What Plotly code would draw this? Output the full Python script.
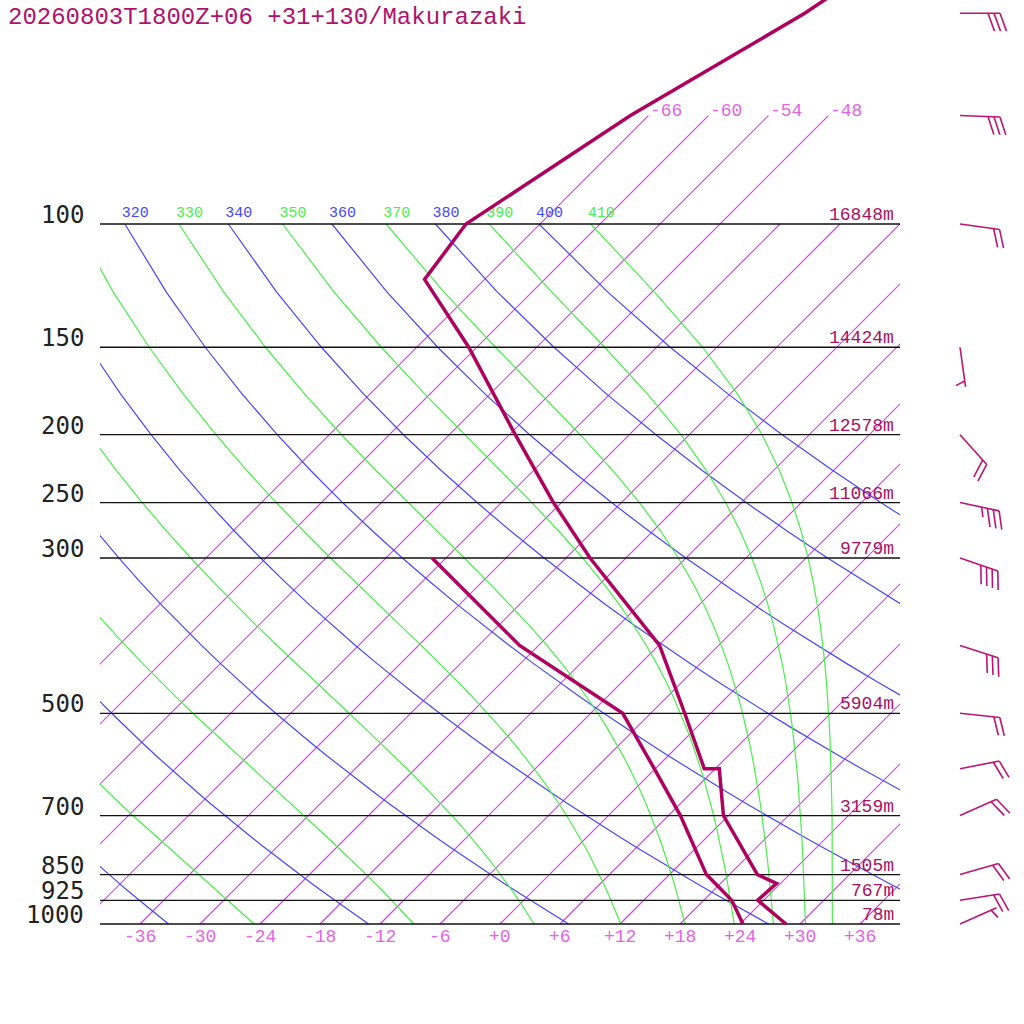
import numpy as np
import plotly.graph_objects as go

# forecast sounding, Makurazaki
title_text = "20260803T1800Z+06 +31+130/Makurazaki"

temp_p = [1000, 925, 875, 850, 700, 600, 600, 500, 400, 300, 250, 200, 150, 120, 100, 70, 50, 30]
temp_c = [28.6, 23.4, 23.6, 20.8, 11.5, 6.4, 4.9, -2.6, -11.9, -27.6, -36.8, -47.4, -60.8, -72.0, -73.4, -67.8, -60.6, -53.0]

dewp_p = [1000, 925, 850, 700, 600, 500, 400, 300]
dewp_c = [24.3, 20.8, 15.7, 7.2, -0.1, -8.8, -25.9, -43.4]

std_p = [1000, 925, 850, 700, 500, 300, 250, 200, 150, 100]
std_z = [78, 767, 1505, 3159, 5904, 9779, 11066, 12578, 14424, 16848]

wind_p = [50, 70, 100, 150, 200, 250, 300, 400, 500, 600, 700, 850, 925, 1000]
wind_dir = [90, 92, 98, 172, 138, 102, 109, 108, 96, 79, 66, 74, 81, 66]
wind_kt = [30, 30, 20, 5, 20, 35, 40, 30, 20, 20, 20, 20, 20, 5]

isotherm_c = list(range(-66, 37, 6))
top_isotherm_c = [-66, -60, -54, -48]
theta_k = list(range(240, 401, 20))
thetae_k = list(range(250, 411, 20))

# geometry
W = H = 1024
P0 = 1000.0
SKEW = 70.0          # deg C of shift per pressure decade (45 deg)
DEC_PX = 700.0       # pixels per pressure decade
ROW_1000 = 924       # pixel row of 1000 hPa
X_LEFT, X_RIGHT = -40.0, 40.0
BARB_X = 960
STAFF = 40
FEATH = np.deg2rad(70)

PROF = "rgb(176,0,94)"
BARB = "rgb(188,20,116)"
ISO = "rgb(214,64,232)"
ISO_TXT = "rgb(228,100,228)"
DRY = "rgb(70,70,255)"
MOIST = "rgb(72,240,72)"
ZTXT = "rgb(168,16,94)"
MONO = "Liberation Mono, Courier New, monospace"

y_range = [3 + (H - ROW_1000) / DEC_PX, 3 - ROW_1000 / DEC_PX]


def skew_x(t, p):
    return np.asarray(t, float) + SKEW * np.log10(P0 / np.asarray(p, float))


def up(p, px):
    # pressure that sits px pixels above p on the log axis
    return 10 ** (np.log10(p) - px / DEC_PX)


def thetae_sat(tk, p):
    tc = tk - 273.15
    es = 6.112 * np.exp(17.67 * tc / (tc + 243.5))
    es = np.minimum(es, 0.5 * p)
    r = 0.622 * es / (p - es)
    return tk * (1000.0 / p) ** (0.2854 * (1 - 0.28 * r)) * \
        np.exp((3.376 / tk - 0.00254) * r * 1000 * (1 + 0.81 * r))


def moist_t(te, p):
    lo = np.full_like(p, 120.0)
    hi = np.full_like(p, 330.0)
    for _ in range(60):
        mid = 0.5 * (lo + hi)
        big = thetae_sat(mid, p) > te
        hi = np.where(big, mid, hi)
        lo = np.where(big, lo, mid)
    return 0.5 * (lo + hi)


fig = go.Figure()

lev = np.arange(1000, 99, -25.0)

# isotherms
xs, ys = [], []
for t in isotherm_c:
    ptop = 70 if t in top_isotherm_c else 100
    xa = skew_x([t, t], [1000, ptop])
    xs += [float(xa[0]), float(xa[1]), None]
    ys += [1000.0, float(ptop), None]
fig.add_trace(go.Scatter(x=xs, y=ys, mode="lines", line=dict(color=ISO, width=1.2),
                         hoverinfo="skip"))

# dry adiabats
xs, ys = [], []
for th in theta_k:
    tt = th * (lev / P0) ** 0.286 - 273.15
    xs += [float(v) for v in skew_x(tt, lev)] + [None]
    ys += [float(v) for v in lev] + [None]
fig.add_trace(go.Scatter(x=xs, y=ys, mode="lines", line=dict(color=DRY, width=1.2),
                         hoverinfo="skip"))

# moist adiabats
xs, ys = [], []
moist_top = {}
for te in thetae_k:
    tt = moist_t(te, lev) - 273.15
    sx = skew_x(tt, lev)
    moist_top[te] = float(sx[-1])
    xs += [float(v) for v in sx] + [None]
    ys += [float(v) for v in lev] + [None]
fig.add_trace(go.Scatter(x=xs, y=ys, mode="lines", line=dict(color=MOIST, width=1.2),
                         hoverinfo="skip"))

# isobars
xs, ys = [], []
for p in std_p:
    xs += [X_LEFT, X_RIGHT, None]
    ys += [p, p, None]
fig.add_trace(go.Scatter(x=xs, y=ys, mode="lines", line=dict(color="#111", width=1.3),
                         hoverinfo="skip"))

# theta labels along 100 hPa
lab_x, lab_t, lab_c = [], [], []
for th in theta_k:
    if th >= 320:
        lab_x.append(float(skew_x(th * 0.1 ** 0.286 - 273.15, 100)) - 0.3)
        lab_t.append(str(th))
        lab_c.append(DRY)
for te in thetae_k:
    if te >= 310:
        lab_x.append(moist_top[te] - 0.3)
        lab_t.append(str(te))
        lab_c.append(MOIST)
fig.add_trace(go.Scatter(x=lab_x, y=[up(100, 11)] * len(lab_x), mode="text", text=lab_t,
                         textposition="middle right", cliponaxis=True,
                         textfont=dict(family=MONO, size=15, color=lab_c), hoverinfo="skip"))

# profiles
fig.add_trace(go.Scatter(x=skew_x(dewp_c, dewp_p), y=dewp_p, mode="lines",
                         line=dict(color=PROF, width=3.5), hoverinfo="skip"))
fig.add_trace(go.Scatter(x=skew_x(temp_c, temp_p), y=temp_p, mode="lines",
                         line=dict(color=PROF, width=3.5), hoverinfo="skip"))

# wind barbs (pixel offsets from the station point)
bx, by = [], []
for p, d, s in zip(wind_p, wind_dir, wind_kt):
    a = np.deg2rad(d)
    ux, uy = np.sin(a), -np.cos(a)
    fx = ux * np.cos(FEATH) - uy * np.sin(FEATH)
    fy = ux * np.sin(FEATH) + uy * np.cos(FEATH)
    segs = [((0, 0), (ux * STAFF, uy * STAFF))]
    n5 = int(round(s / 5))
    n50, rest = divmod(n5, 10)
    nfull, nhalf = divmod(rest, 2)
    k = 0
    for _ in range(n50):
        b0 = STAFF - k * 6
        b1 = b0 - 8
        segs.append(((ux * b0, uy * b0), (ux * b0 + fx * 19, uy * b0 + fy * 19)))
        segs.append(((ux * b0 + fx * 19, uy * b0 + fy * 19), (ux * b1, uy * b1)))
        k += 2
    for _ in range(nfull):
        b0 = STAFF - k * 6
        segs.append(((ux * b0, uy * b0), (ux * b0 + fx * 19, uy * b0 + fy * 19)))
        k += 1
    if nhalf:
        if k == 0:
            k = 1
        b0 = STAFF - k * 6
        segs.append(((ux * b0, uy * b0), (ux * b0 + fx * 10, uy * b0 + fy * 10)))
    for (x0, y0), (x1, y1) in segs:
        bx += [BARB_X + x0, BARB_X + x1, None]
        by += [10 ** (np.log10(p) + y0 / DEC_PX), 10 ** (np.log10(p) + y1 / DEC_PX), None]
fig.add_trace(go.Scatter(x=bx, y=by, xaxis="x2", mode="lines",
                         line=dict(color=BARB, width=1.6), hoverinfo="skip"))

ann = []
# pressure labels
for p in std_p:
    ann.append(dict(xref="x2", yref="y", x=86, y=np.log10(p), yshift=9, text=str(p),
                    xanchor="right", yanchor="middle", showarrow=False,
                    font=dict(family="DejaVu Sans Mono", size=24, color="#222")))
# heights
for p, z in zip(std_p, std_z):
    ann.append(dict(xref="x", yref="y", x=X_RIGHT, y=np.log10(p), xshift=-4, yshift=9,
                    text=f"{z}m", xanchor="right", yanchor="middle", showarrow=False,
                    font=dict(family=MONO, size=18, color=ZTXT)))
# isotherm labels, bottom
for t in isotherm_c:
    if X_LEFT < t < X_RIGHT:
        ann.append(dict(xref="x", yref="y", x=t, y=3, yshift=-13, text=f"{t:+d}",
                        xanchor="center", yanchor="middle", showarrow=False,
                        font=dict(family=MONO, size=18, color=ISO_TXT)))
# isotherm labels, top
for t in top_isotherm_c:
    ann.append(dict(xref="x", yref="y", x=float(skew_x(t, 70)), y=np.log10(70), yshift=5,
                    text=f"{t:+d}", xanchor="left", yanchor="middle", showarrow=False,
                    font=dict(family=MONO, size=18, color=ISO_TXT)))
ann.append(dict(xref="paper", yref="paper", x=6 / W, y=1 - 17 / H, text=title_text,
                xanchor="left", yanchor="middle", showarrow=False,
                font=dict(family=MONO, size=24, color="rgb(176,16,108)")))

fig.update_layout(
    width=W, height=H, margin=dict(l=0, r=0, t=0, b=0),
    paper_bgcolor="white", plot_bgcolor="rgba(0,0,0,0)",
    showlegend=False, annotations=ann,
    xaxis=dict(domain=[100 / W, 900 / W], range=[X_LEFT, X_RIGHT], visible=False, anchor="y"),
    xaxis2=dict(domain=[0, 1], range=[0, W], visible=False, anchor="y"),
    yaxis=dict(type="log", range=y_range, visible=False, anchor="x"),
)

fig.write_html("out.html", config={"displayModeBar": False},
               post_script="document.body.style.margin='0';")
